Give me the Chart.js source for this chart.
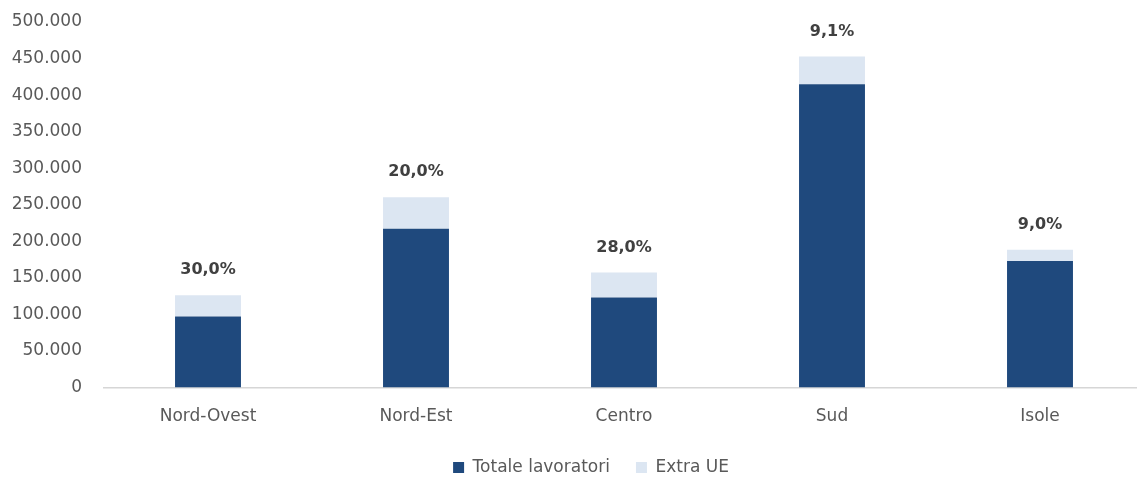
<!DOCTYPE html>
<html lang="it">
<head>
<meta charset="utf-8">
<title>Lavoratori per ripartizione</title>
<script src="https://cdn.jsdelivr.net/npm/chart.js@4.4.1/dist/chart.umd.min.js"></script>
<style>
  html, body { margin: 0; padding: 0; background: #ffffff; overflow: hidden; }
  #wrap { position: relative; width: 1144px; height: 482px; }
</style>
</head>
<body>
<div id="wrap"><canvas id="chart"></canvas></div>
<script>
// Ripartizioni territoriali
const ripartizioni = ['Nord-Ovest', 'Nord-Est', 'Centro', 'Sud', 'Isole'];
// Lavoratori totali (parte scura) e quota aggiuntiva extra UE (parte chiara)
const totaleLavoratori = [97000, 217000, 123000, 415000, 173000];
const extraUE = [29100, 43400, 34400, 37800, 15600];
// Incidenza extra UE riportata sopra ogni colonna
const incidenza = ['30,0%', '20,0%', '28,0%', '9,1%', '9,0%'];
// Asse verticale
const yMax = 500000;
const yStep = 50000;

const grigio = '#595959';
const fontBase = { family: "'DejaVu Sans', 'Liberation Sans', sans-serif", size: 17 };

function formatMigliaia(v) {
  return String(v).replace(/\B(?=(\d{3})+(?!\d))/g, '.');
}

// Etichette percentuali sopra le colonne impilate
const etichettePlugin = {
  id: 'etichetteIncidenza',
  afterDatasetsDraw(chart) {
    const { ctx, scales: { x, y } } = chart;
    ctx.save();
    ctx.font = "bold 16px 'DejaVu Sans', 'Liberation Sans', sans-serif";
    ctx.fillStyle = '#404040';
    ctx.textAlign = 'center';
    ctx.textBaseline = 'middle';
    ripartizioni.forEach((_, i) => {
      const cima = y.getPixelForValue(totaleLavoratori[i] + extraUE[i]);
      ctx.fillText(incidenza[i], x.getPixelForValue(i), cima - 25);
    });
    ctx.restore();
  }
};

// Legenda leggermente spostata verso destra rispetto al centro della tela
const legendaPlugin = {
  id: 'spostaLegenda',
  afterLayout(chart) {
    const lg = chart.legend;
    if (lg) { lg.left += 19; lg.right += 19; }
  }
};

new Chart(document.getElementById('chart'), {
  type: 'bar',
  data: {
    labels: ripartizioni,
    datasets: [
      {
        label: 'Totale lavoratori',
        data: totaleLavoratori,
        backgroundColor: '#1F497D',
        categoryPercentage: 1,
        barPercentage: 0.317
      },
      {
        label: 'Extra UE',
        data: extraUE,
        backgroundColor: '#DCE6F2',
        categoryPercentage: 1,
        barPercentage: 0.317
      }
    ]
  },
  options: {
    responsive: true,
    maintainAspectRatio: false,
    animation: false,
    layout: { padding: { top: 22, left: 0, right: 0, bottom: 0 } },
    scales: {
      x: {
        stacked: true,
        grid: { display: false, drawTicks: false },
        border: { display: true, color: '#d6d6d6', width: 1.5 },
        ticks: { color: grigio, font: fontBase, padding: 19, maxRotation: 0 },
        afterFit(scale) { scale.height = 45.5; }
      },
      y: {
        stacked: true,
        min: 0,
        max: yMax,
        grid: { display: false, drawTicks: false },
        border: { display: false },
        ticks: {
          stepSize: yStep,
          color: grigio,
          font: fontBase,
          padding: 22,
          callback: (v) => formatMigliaia(v)
        },
        afterFit(scale) {
          scale.width = 104;
          scale.paddingTop = 0;
          scale.paddingBottom = 0;
        }
      }
    },
    plugins: {
      tooltip: { enabled: false },
      legend: {
        position: 'bottom',
        maxHeight: 49,
        labels: {
          color: grigio,
          font: fontBase,
          boxWidth: 11,
          boxHeight: 11,
          padding: 26
        }
      }
    }
  },
  plugins: [etichettePlugin, legendaPlugin]
});
</script>
</body>
</html>
